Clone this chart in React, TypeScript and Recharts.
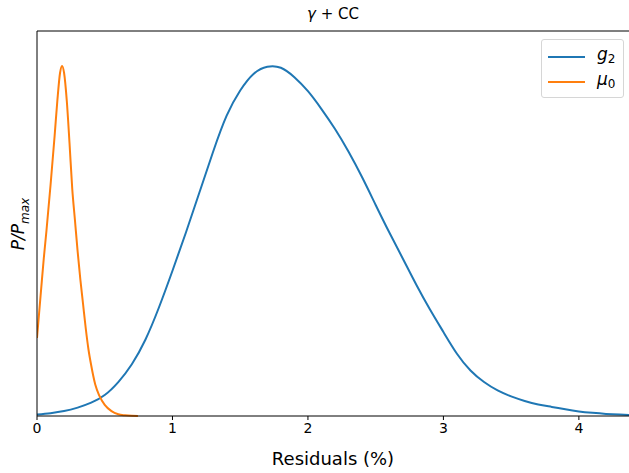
import { LineChart, Line, XAxis, YAxis, ReferenceLine } from 'recharts';

const g2X = [0, 0.1, 0.2, 0.3, 0.4, 0.5, 0.6, 0.7, 0.8, 0.9, 1.0, 1.1, 1.2, 1.3, 1.4, 1.5, 1.6, 1.7, 1.8, 1.9, 2.0, 2.1, 2.2, 2.3, 2.4, 2.5, 2.6, 2.7, 2.8, 2.9, 3.0, 3.1, 3.2, 3.3, 3.4, 3.5, 3.6, 3.7, 3.8, 3.9, 4.0, 4.1, 4.2, 4.3, 4.37];
const g2Y = [0.004, 0.008, 0.014, 0.024, 0.038, 0.06, 0.097, 0.148, 0.218, 0.31, 0.415, 0.525, 0.64, 0.755, 0.858, 0.93, 0.978, 0.998, 0.995, 0.968, 0.928, 0.877, 0.82, 0.755, 0.682, 0.603, 0.525, 0.45, 0.375, 0.305, 0.24, 0.178, 0.13, 0.097, 0.073, 0.056, 0.043, 0.033, 0.026, 0.019, 0.013, 0.009, 0.006, 0.004, 0.003];

const mu0X = [0, 0.03, 0.05, 0.07, 0.1, 0.13, 0.15, 0.17, 0.185, 0.2, 0.22, 0.24, 0.26, 0.28, 0.3, 0.32, 0.34, 0.36, 0.38, 0.4, 0.43, 0.46, 0.5, 0.55, 0.6, 0.65, 0.7, 0.745];
const mu0Y = [0.223, 0.36, 0.45, 0.53, 0.66, 0.8, 0.9, 0.98, 1.0, 0.98, 0.9, 0.78, 0.65, 0.56, 0.47, 0.39, 0.32, 0.25, 0.19, 0.145, 0.09, 0.058, 0.032, 0.014, 0.005, 0.002, 0.0005, 0];

const xTicks = [0, 1, 2, 3, 4];

const g2Data = g2X.map((x, i) => ({ x, v: g2Y[i] }));
const mu0Data = mu0X.map((x, i) => ({ x, v: mu0Y[i] }));

const BLUE = '#1f77b4';
const ORANGE = '#ff7f0e';
const FONT = '"DejaVu Sans", sans-serif';

function YLabel() {
  return (
    <text
      x={0}
      y={0}
      transform="translate(24, 224) rotate(-90)"
      textAnchor="middle"
      fontFamily={FONT}
      fontSize={17}
      fontStyle="italic"
      fill="#000"
    >
      P/P
      <tspan fontSize={12} dy={5}>max</tspan>
    </text>
  );
}

function LegendBox() {
  const rows = [
    { color: BLUE, main: 'g', sub: '2' },
    { color: ORANGE, main: 'μ', sub: '0' },
  ];
  return (
    <div
      style={{
        position: 'absolute',
        top: 39,
        left: 541,
        width: 83,
        height: 59,
        border: '1px solid #d6d6d6',
        borderRadius: 3,
        background: 'rgba(255,255,255,0.8)',
        boxSizing: 'border-box',
        padding: '4px 0 0 6px',
        fontFamily: FONT,
      }}
    >
      {rows.map((r) => (
        <div key={r.main} style={{ display: 'flex', alignItems: 'center', height: 25 }}>
          <div style={{ width: 37, height: 2, background: r.color }} />
          <span style={{ marginLeft: 12, fontSize: 17, fontStyle: 'italic', color: '#000', lineHeight: '20px' }}>
            {r.main}
            <sub style={{ fontSize: 12, fontStyle: 'normal', verticalAlign: -3 }}>{r.sub}</sub>
          </span>
        </div>
      ))}
    </div>
  );
}

export default function App() {
  return (
    <div style={{ position: 'absolute', left: 0, top: 0, width: 629, height: 473, background: '#fff' }}>
      <div
        style={{
          position: 'absolute',
          top: 5,
          left: 37,
          width: 592,
          textAlign: 'center',
          fontFamily: FONT,
          fontSize: 15,
          color: '#000',
        }}
      >
        <i>γ</i> + CC
      </div>
      <LineChart width={629} height={473} margin={{ top: 31, right: 0, bottom: 0, left: 0 }}>
        <XAxis
          type="number"
          dataKey="x"
          domain={[0, 4.37]}
          ticks={xTicks}
          allowDataOverflow
          height={57}
          tickSize={4}
          tickMargin={3}
          stroke="#000"
          tick={{ fill: '#000', fontSize: 14, fontFamily: FONT }}
          label={{ value: 'Residuals (%)', position: 'insideBottom', offset: 8, fontSize: 18, fontFamily: FONT, fill: '#000' }}
        />
        <YAxis
          type="number"
          domain={[0, 1.1]}
          width={37}
          tick={false}
          tickLine={false}
          stroke="#000"
          label={<YLabel />}
        />
        <ReferenceLine y={1.1} stroke="#000" strokeWidth={1} />
        <Line
          data={g2Data}
          dataKey="v"
          name="g2"
          type="natural"
          stroke={BLUE}
          strokeWidth={2}
          dot={false}
          isAnimationActive={false}
        />
        <Line
          data={mu0Data}
          dataKey="v"
          name="mu0"
          type="monotone"
          stroke={ORANGE}
          strokeWidth={2}
          dot={false}
          isAnimationActive={false}
        />
      </LineChart>
      <LegendBox />
    </div>
  );
}
